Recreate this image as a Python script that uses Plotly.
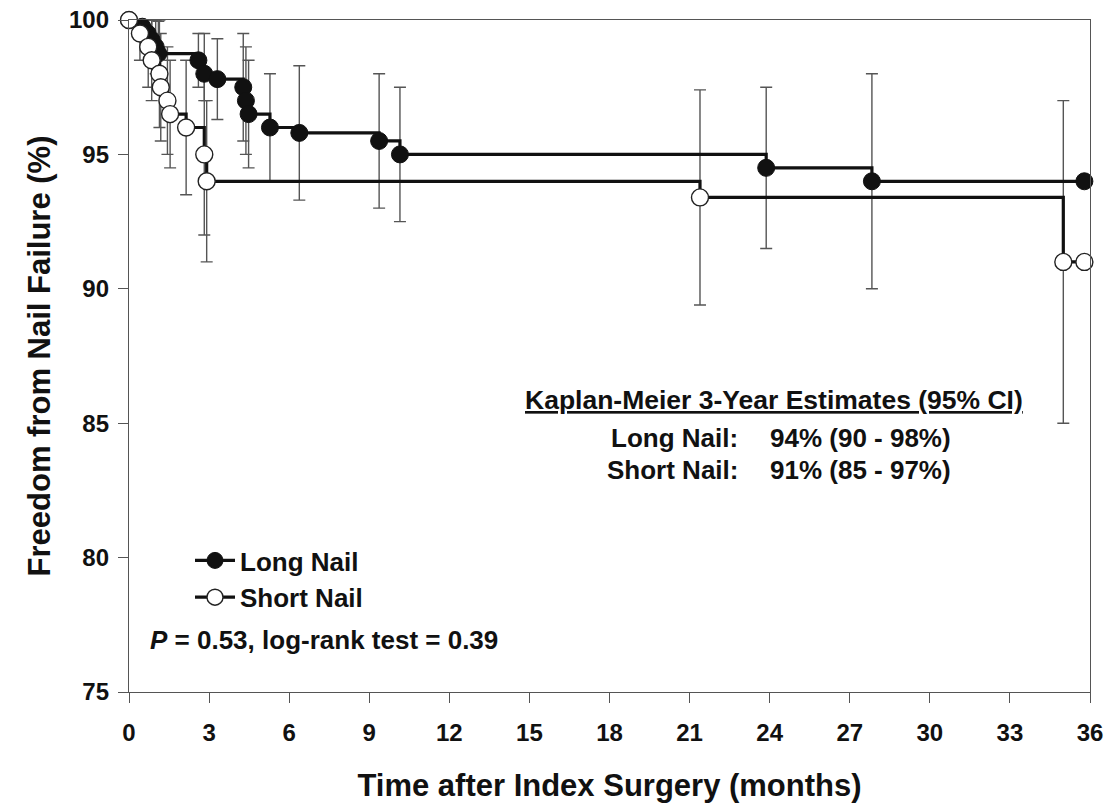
import plotly.graph_objects as go

# ---------------- data ----------------
long_t = [0, 0.5, 0.7, 0.85, 1.0, 1.1, 2.6, 2.82, 3.31, 4.28, 4.38, 4.48, 5.28, 6.38, 9.37, 10.15, 23.87, 27.83, 35.79]
long_s = [100, 99.75, 99.5, 99.25, 99.0, 98.75, 98.5, 98.0, 97.8, 97.5, 97.0, 96.5, 96.0, 95.8, 95.5, 95.0, 94.5, 94.0, 94.0]
long_lo = [100, 99.25, 98.8, 98.35, 98.0, 97.55, 97.5, 97.0, 96.3, 95.5, 95.0, 94.5, 94.0, 93.3, 93.0, 92.5, 91.5, 90.0, 94.0]
long_hi = [100, 100, 100, 100, 100, 99.95, 99.5, 99.5, 99.3, 99.5, 99.0, 98.5, 98.0, 98.3, 98.0, 97.5, 97.5, 98.0, 94.0]

short_t = [0, 0.41, 0.72, 0.85, 1.14, 1.19, 1.44, 1.54, 2.14, 2.82, 2.91, 21.39, 35.0, 35.79]
short_s = [100, 99.5, 99.0, 98.5, 98.0, 97.5, 97.0, 96.5, 96.0, 95.0, 94.0, 93.4, 91.0, 91.0]
short_lo = [100, 98.5, 97.5, 97.0, 96.0, 95.5, 95.0, 94.5, 93.5, 92.0, 91.0, 89.4, 85.0, 91.0]
short_hi = [100, 100, 100, 100, 100, 99.5, 99.0, 98.5, 98.5, 98.0, 97.0, 97.4, 97.0, 91.0]

x_ticks = list(range(0, 37, 3))
y_ticks = [75, 80, 85, 90, 95, 100]

FONT = "Liberation Sans, Arial, sans-serif"
INK = "#111111"
GREY = "#555555"

def err(s, lo, hi):
    return dict(type="data", symmetric=False,
                array=[h - v for v, h in zip(s, hi)],
                arrayminus=[v - l for v, l in zip(s, lo)],
                color=GREY, thickness=1.4, width=6)

fig = go.Figure()

# error bars first (beneath the curves)
for t, s, lo, hi in [(long_t, long_s, long_lo, long_hi), (short_t, short_s, short_lo, short_hi)]:
    fig.add_trace(go.Scatter(x=t, y=s, mode="markers", showlegend=False, hoverinfo="skip",
                             marker=dict(size=1, color="rgba(0,0,0,0)"),
                             error_y=err(s, lo, hi), cliponaxis=False))

fig.add_trace(go.Scatter(x=long_t, y=long_s, mode="lines+markers", name="Long Nail",
                         line=dict(shape="hv", color=INK, width=3.2),
                         marker=dict(symbol="circle", size=17, color=INK, line=dict(color=INK, width=1)),
                         cliponaxis=False))
fig.add_trace(go.Scatter(x=short_t, y=short_s, mode="lines+markers", name="Short Nail",
                         line=dict(shape="hv", color=INK, width=3.2),
                         marker=dict(symbol="circle", size=17, color="white", line=dict(color="#222222", width=1.4)),
                         cliponaxis=False))

axis_common = dict(showline=True, linecolor=GREY, linewidth=1.4, mirror=True, automargin=False,
                   ticks="outside", ticklen=10, tickwidth=1.4, tickcolor=GREY,
                   showgrid=False, zeroline=False,
                   tickfont=dict(family=FONT, size=24, color=INK, weight="bold"))

fig.update_xaxes(range=[0, 36], tickvals=x_ticks, ticklabelstandoff=9,
                 title=dict(text="Time after Index Surgery (months)", standoff=29,
                            font=dict(family=FONT, size=31, color=INK, weight="bold")),
                 **axis_common)
fig.update_yaxes(range=[75, 100], tickvals=y_ticks, ticklabelstandoff=4,
                 title=dict(text="Freedom from Nail Failure (%)", standoff=9,
                            font=dict(family=FONT, size=31, color=INK, weight="bold")),
                 **axis_common)

ann_font = dict(family=FONT, size=26, color=INK, weight="bold")
fig.add_annotation(text="Kaplan-Meier 3-Year Estimates (95% CI)", xref="paper", yref="paper",
                   x=(774 - 129) / 961, y=(692 - 400) / 672, xanchor="center", yanchor="middle",
                   showarrow=False, font=dict(ann_font, size=26.5, lineposition="under"))
fig.add_annotation(text="Long Nail:", xref="paper", yref="paper", x=(740 - 129) / 961, y=(692 - 438) / 672,
                   xanchor="right", yanchor="middle", showarrow=False, font=ann_font)
fig.add_annotation(text="94% (90 - 98%)", xref="paper", yref="paper", x=(768 - 129) / 961, y=(692 - 438) / 672,
                   xanchor="left", yanchor="middle", showarrow=False, font=ann_font)
fig.add_annotation(text="Short Nail:", xref="paper", yref="paper", x=(740 - 129) / 961, y=(692 - 470) / 672,
                   xanchor="right", yanchor="middle", showarrow=False, font=ann_font)
fig.add_annotation(text="91% (85 - 97%)", xref="paper", yref="paper", x=(768 - 129) / 961, y=(692 - 470) / 672,
                   xanchor="left", yanchor="middle", showarrow=False, font=ann_font)
fig.add_annotation(text="<i>P</i> = 0.53, log-rank test = 0.39", xref="paper", yref="paper",
                   x=(148 - 129) / 961, y=(692 - 640) / 672, xanchor="left", yanchor="middle",
                   showarrow=False, font=ann_font)

fig.update_layout(
    width=1105, height=806,
    margin=dict(l=129, r=15, t=20, b=114, autoexpand=False),
    paper_bgcolor="white", plot_bgcolor="white",
    font=dict(family=FONT, color=INK),
    showlegend=True,
    legend=dict(x=(190 - 129) / 961, y=(692 - 537) / 672, xanchor="left", yanchor="top",
                bgcolor="rgba(0,0,0,0)", tracegroupgap=0, itemwidth=40,
                font=dict(family=FONT, size=26, color=INK, weight="bold")),
)

fig.write_html("out.html", config={"displayModeBar": False},
               post_script="document.body.style.margin='0';document.body.style.overflow='hidden';")
